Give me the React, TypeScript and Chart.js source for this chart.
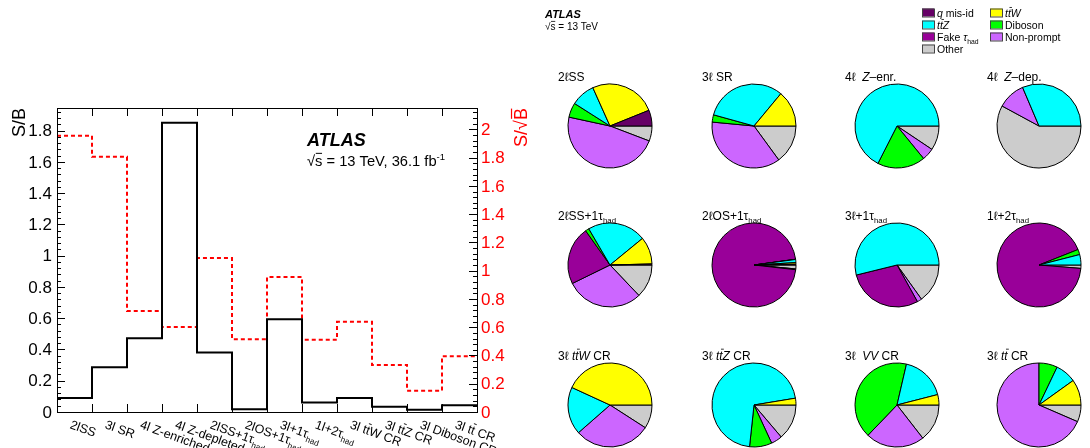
import React, { useEffect, useRef } from "react";
import { Chart, registerables } from "chart.js";
Chart.register(...registerables);

// ---------------- data ----------------
const categories = [
  "2lSS", "3l SR", "4l Z-enriched", "4l Z-depleted",
  "2lSS+1τ_{had}", "2lOS+1τ_{had}", "3l+1τ_{had}", "1l+2τ_{had}",
  "3l t~{t}W CR", "3l t~{t}Z CR", "3l Diboson CR", "3l t~{t} CR",
];
const sOverB = [0.09, 0.286, 0.472, 1.851, 0.38, 0.017, 0.594, 0.06, 0.09, 0.034, 0.015, 0.043];
const sOverSqrtB = [1.955, 1.806, 0.715, 0.602, 1.089, 0.515, 0.956, 0.512, 0.638, 0.333, 0.151, 0.394];
const leftTickLabels = ["0", "0.2", "0.4", "0.6", "0.8", "1", "1.2", "1.4", "1.6", "1.8"];
const rightTickLabels = ["0", "0.2", "0.4", "0.6", "0.8", "1", "1.2", "1.4", "1.6", "1.8", "2"];
const leftMax = 1.945;
const rightMax = 2.151;

const processes = ["q mis-id", "ttW", "ttZ", "Diboson", "Fake tau_had", "Non-prompt", "Other"];
const processColors = ["#660066", "#ffff00", "#00ffff", "#00ff00", "#990099", "#cc66ff", "#cccccc"];
const legendLabels = ["/{q} mis-id", "/{t}&{t}/{W}", "/{t}&{t}/{Z}", "Diboson", "Fake /{τ}_{had}", "Non-prompt", "Other"];

// fractions (%) in process order: q mis-id, ttW, ttZ, Diboson, Fake tau, Non-prompt, Other
const frac2lSS = [6.1, 25.6, 9.3, 5.6, 0, 47.6, 5.8];
const frac3lSR = [0, 14.0, 31.8, 2.8, 0, 36.6, 15.0];
const frac4lZenr = [0, 0, 67.5, 18.4, 0, 4.7, 9.4];
const frac4lZdep = [0, 0, 31.4, 0, 0, 10.7, 57.9];
const frac2lSS1tau = [0.4, 10.5, 22.5, 1.4, 22.4, 29.8, 12.9];
const frac2lOS1tau = [0.3, 0.6, 1.2, 0.1, 96.0, 0.3, 1.5];
const frac3l1tau = [0, 0, 53.8, 0, 29.2, 1.8, 15.1];
const frac1l2tau = [0, 0, 4.0, 2.0, 92.7, 0, 1.3];
const frac3lttWCR = [0, 43.1, 18.3, 0, 0, 29.4, 9.1];
const frac3lttZCR = [0, 2.6, 70.7, 8.6, 0, 4.3, 13.8];
const frac3lVVCR = [0, 4.0, 17.4, 41.5, 0, 22.7, 14.5];
const frac3lttCR = [0, 9.9, 8.0, 7.1, 0, 68.5, 6.5];

const pieTitles = [
  "2ℓSS", "3ℓ SR", "4ℓ  /{Z}–enr.", "4ℓ  /{Z}–dep.",
  "2ℓSS+1τ_{had}", "2ℓOS+1τ_{had}", "3ℓ+1τ_{had}", "1ℓ+2τ_{had}",
  "3ℓ /{t}&{t}/{W} CR", "3ℓ /{t}&{t}/{Z} CR", "3ℓ  /{VV} CR", "3ℓ /{t}&{t} CR",
];
const pieFractions = [
  frac2lSS, frac3lSR, frac4lZenr, frac4lZdep,
  frac2lSS1tau, frac2lOS1tau, frac3l1tau, frac1l2tau,
  frac3lttWCR, frac3lttZCR, frac3lVVCR, frac3lttCR,
];

// ---------------- layout ----------------
const W = 1090;
const H = 448;
const PLOT = { left: 57, top: 108, right: 477, bottom: 412 };
const PIE_X = [610, 754, 897, 1039];
const PIE_Y = [126, 264.5, 404.5];
const PIE_R = 42;
const FONT = '"Liberation Sans", Arial, Helvetica, sans-serif';

// ---------------- rich text ----------------
type Seg = { t: string; k: string };
function parseRich(s: string): Seg[] {
  const out: Seg[] = [];
  let buf = "";
  let i = 0;
  while (i < s.length) {
    const c = s[i];
    if ("_^~/&".includes(c) && s[i + 1] === "{") {
      if (buf) { out.push({ t: buf, k: "" }); buf = ""; }
      const end = s.indexOf("}", i + 2);
      out.push({ t: s.slice(i + 2, end), k: c });
      i = end + 1;
    } else {
      buf += c;
      i++;
    }
  }
  if (buf) out.push({ t: buf, k: "" });
  return out;
}
function fontFor(size: number, italic: boolean, bold: boolean) {
  return `${italic ? "italic " : ""}${bold ? "bold " : ""}${size}px ${FONT}`;
}
function drawRich(
  ctx: CanvasRenderingContext2D, s: string, x: number, y: number, size: number,
  color: string, opts: { bold?: boolean; italic?: boolean; align?: string } = {}
) {
  const segs = parseRich(s);
  const parts = segs.map((seg) => {
    const small = seg.k === "_" || seg.k === "^";
    const sz = small ? size * 0.65 : size;
    const it = !!opts.italic || seg.k === "/" || seg.k === "&";
    const f = fontFor(sz, it, !!opts.bold);
    ctx.font = f;
    return { seg, f, w: ctx.measureText(seg.t).width };
  });
  const total = parts.reduce((a, p) => a + p.w, 0);
  let cx = opts.align === "right" ? x - total : opts.align === "center" ? x - total / 2 : x;
  ctx.fillStyle = color;
  ctx.strokeStyle = color;
  ctx.textBaseline = "alphabetic";
  ctx.textAlign = "left";
  for (const p of parts) {
    ctx.font = p.f;
    let dy = 0;
    if (p.seg.k === "_") dy = size * 0.32;
    if (p.seg.k === "^") dy = -size * 0.42;
    ctx.fillText(p.seg.t, cx, y + dy);
    if (p.seg.k === "~" || p.seg.k === "&") {
      const sh = p.seg.k === "&" ? size * 0.12 : 0;
      ctx.lineWidth = Math.max(0.8, size / 15);
      ctx.beginPath();
      ctx.moveTo(cx + p.w * 0.1 + sh, y - size * 0.86);
      ctx.lineTo(cx + p.w * 0.95 + sh, y - size * 0.86);
      ctx.stroke();
    }
    cx += p.w;
  }
  return total;
}

// ---------------- main chart plugin ----------------
const decorations = {
  id: "decorations",
  afterDraw(chart: any) {
    const ctx: CanvasRenderingContext2D = chart.ctx;
    const a = chart.chartArea;
    const xs = chart.scales.x;
    const ys = chart.scales.y;
    const ys2 = chart.scales.y2;
    ctx.save();
    const line = (x1: number, y1: number, x2: number, y2: number) => {
      ctx.beginPath(); ctx.moveTo(x1, y1); ctx.lineTo(x2, y2); ctx.stroke();
    };
    // frame
    ctx.strokeStyle = "#000";
    ctx.lineWidth = 1;
    ctx.strokeRect(Math.round(a.left) + 0.5, Math.round(a.top) + 0.5, Math.round(a.right - a.left), Math.round(a.bottom - a.top));
    // x ticks at bin edges
    for (let i = 1; i < categories.length; i++) {
      const px = Math.round(xs.getPixelForValue(i)) + 0.5;
      line(px, a.bottom, px, a.bottom - 8);
      line(px, a.top, px, a.top + 8);
    }
    // left axis ticks
    for (let v = 0; v <= leftMax + 1e-9; v += 0.04) {
      const major = Math.abs(v / 0.2 - Math.round(v / 0.2)) < 1e-6;
      const py = Math.round(ys.getPixelForValue(v)) + 0.5;
      line(a.left, py, a.left + (major ? 8 : 4), py);
    }
    // right axis ticks
    for (let v = 0; v <= rightMax + 1e-9; v += 0.04) {
      const major = Math.abs(v / 0.2 - Math.round(v / 0.2)) < 1e-6;
      const py = Math.round(ys2.getPixelForValue(v)) + 0.5;
      line(a.right, py, a.right - (major ? 8 : 4), py);
    }
    // tick labels
    ctx.font = fontFor(17, false, false);
    ctx.textBaseline = "middle";
    ctx.textAlign = "right";
    ctx.fillStyle = "#000";
    for (const lab of leftTickLabels) {
      ctx.fillText(lab, a.left - 5, ys.getPixelForValue(parseFloat(lab)) + 1);
    }
    ctx.textAlign = "left";
    ctx.fillStyle = "#ff0000";
    for (const lab of rightTickLabels) {
      ctx.fillText(lab, a.right + 4, ys2.getPixelForValue(parseFloat(lab)) + 1);
    }
    // axis titles
    ctx.save();
    ctx.translate(25, a.top);
    ctx.rotate(-Math.PI / 2);
    drawRich(ctx, "S/B", 0, 0, 18, "#000", { align: "right" });
    ctx.restore();
    ctx.save();
    ctx.translate(527, a.top);
    ctx.rotate(-Math.PI / 2);
    drawRich(ctx, "S/√~{B}", 0, 0, 18, "#ff0000", { align: "right" });
    ctx.restore();
    // x category labels
    categories.forEach((lab, i) => {
      const xc = xs.getPixelForValue(i + 0.5);
      ctx.save();
      ctx.translate(xc - 2, a.bottom + 7);
      ctx.rotate((20 * Math.PI) / 180);
      drawRich(ctx, lab, 0, 9.5, 12.5, "#000");
      ctx.restore();
    });
    // ATLAS label (left)
    drawRich(ctx, "ATLAS", 307, 146, 18, "#000", { bold: true, italic: true });
    drawRich(ctx, "√~{s} = 13 TeV, 36.1 fb^{-1}", 307, 166, 14.7, "#000");

    // right panel header
    drawRich(ctx, "ATLAS", 545, 18, 11, "#000", { bold: true, italic: true });
    drawRich(ctx, "√~{s} = 13 TeV", 545, 30, 10, "#000");

    // legend (2 columns, row-major)
    legendLabels.forEach((lab, i) => {
      const col = i % 2;
      const row = Math.floor(i / 2);
      const bx = col === 0 ? 922 : 990;
      const cy = 12.5 + row * 12;
      ctx.fillStyle = processColors[i];
      ctx.fillRect(bx, cy - 4, 12, 8);
      ctx.strokeStyle = "#444";
      ctx.lineWidth = 1;
      ctx.strokeRect(bx + 0.5, cy - 4 + 0.5, 12, 8);
      drawRich(ctx, lab, bx + 15, cy + 4, 10.5, "#000");
    });

    // pie titles
    pieTitles.forEach((t, i) => {
      const px = PIE_X[i % 4];
      const py = PIE_Y[Math.floor(i / 4)];
      drawRich(ctx, t, px - 52, py - 45, 12, "#000");
    });
    ctx.restore();
  },
};

function MainChart() {
  const ref = useRef<HTMLCanvasElement>(null);
  useEffect(() => {
    const edges = categories.map((_, i) => i).concat([categories.length]);
    const sbPts = edges.map((x) => ({ x, y: sOverB[Math.min(x, sOverB.length - 1)] }));
    const ssbPts = edges.map((x) => ({ x, y: sOverSqrtB[Math.min(x, sOverSqrtB.length - 1)] }));
    const chart = new Chart(ref.current!, {
      type: "line",
      data: {
        datasets: [
          {
            data: sbPts, stepped: "before", borderColor: "#000", borderWidth: 2,
            pointRadius: 0, fill: false, yAxisID: "y",
          } as any,
          {
            data: ssbPts, stepped: "before", borderColor: "#ff0000", borderWidth: 2,
            borderDash: [4, 3], pointRadius: 0, fill: false, yAxisID: "y2",
          } as any,
        ],
      },
      options: {
        responsive: false,
        animation: false,
        events: [],
        layout: {
          padding: { left: PLOT.left, top: PLOT.top, right: W - PLOT.right, bottom: H - PLOT.bottom },
        },
        scales: {
          x: { type: "linear", min: 0, max: categories.length, display: false },
          y: { type: "linear", min: 0, max: leftMax, display: false },
          y2: { type: "linear", min: 0, max: rightMax, display: false, position: "right" },
        },
        plugins: { legend: { display: false }, tooltip: { enabled: false } },
      },
      plugins: [decorations],
    });
    return () => chart.destroy();
  }, []);
  return <canvas ref={ref} width={W} height={H} style={{ position: "absolute", left: 0, top: 0 }} />;
}

function PieChart({ values, cx, cy }: { values: number[]; cx: number; cy: number }) {
  const ref = useRef<HTMLCanvasElement>(null);
  useEffect(() => {
    const chart = new Chart(ref.current!, {
      type: "pie",
      data: {
        labels: processes.slice().reverse(),
        datasets: [
          {
            data: values.slice().reverse(),
            backgroundColor: processColors.slice().reverse(),
            borderColor: "#000",
            borderWidth: 1,
          },
        ],
      },
      options: {
        responsive: false,
        animation: false,
        events: [],
        rotation: 90,
        radius: PIE_R,
        plugins: { legend: { display: false }, tooltip: { enabled: false } },
      } as any,
    });
    return () => chart.destroy();
  }, []);
  const S = 2 * PIE_R + 8;
  return (
    <canvas ref={ref} width={S} height={S}
      style={{ position: "absolute", left: cx - S / 2, top: cy - S / 2 }} />
  );
}

export default function App() {
  return (
    <div style={{ position: "fixed", left: 0, top: 0, width: W, height: H, background: "#fff", overflow: "hidden" }}>
      <MainChart />
      {pieFractions.map((vals, i) => (
        <PieChart key={i} values={vals} cx={PIE_X[i % 4]} cy={PIE_Y[Math.floor(i / 4)]} />
      ))}
    </div>
  );
}
